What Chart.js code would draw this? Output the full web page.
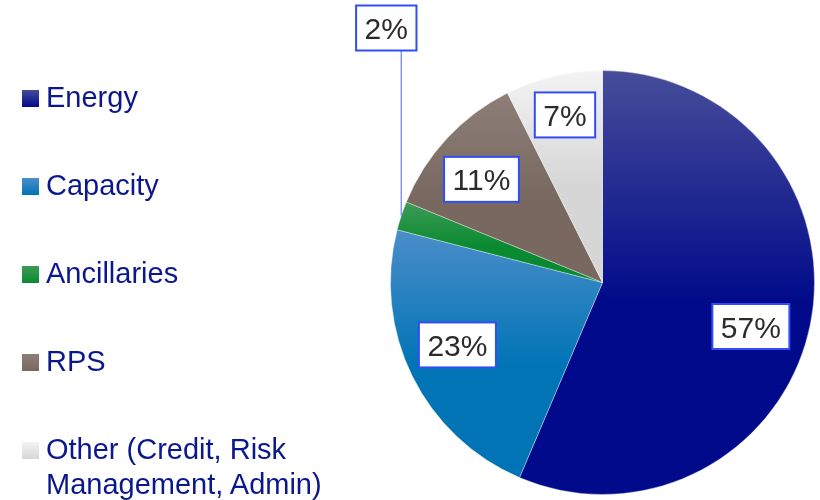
<!DOCTYPE html>
<html>
<head>
<meta charset="utf-8">
<script src="https://cdn.jsdelivr.net/npm/chart.js@4.4.1/dist/chart.umd.min.js"></script>
<style>
  html, body { margin: 0; padding: 0; background: #fff; }
  #wrap { position: relative; width: 820px; height: 500px; overflow: hidden; }
  #costChart { position: absolute; left: 0; top: 0; }
  #legend {
    position: absolute; left: 22px; top: 80px;
    font-family: "Liberation Sans", Arial, sans-serif;
    font-size: 29px; line-height: 35px; color: #0b188c;
  }
  #legend .item { position: relative; height: 88px; padding-left: 24px; width: 300px; }
  #legend .box { position: absolute; left: 0; top: 10px; width: 17px; height: 17px; }
</style>
</head>
<body>
<div id="wrap">
  <canvas id="costChart" width="820" height="500"></canvas>
  <div id="legend"></div>
</div>
<script>
var categories = ["Energy", "Capacity", "Ancillaries", "RPS", "Other (Credit, Risk Management, Admin)"];
var shares = [56.4, 22.6, 2.2, 11.4, 7.4];
var shareLabels = ["57%", "23%", "2%", "11%", "7%"];

var sliceTints = ["#474d99", "#4b8ec9", "#3d9b57", "#8d7f78", "#f3f3f3"];
var sliceBases = ["#000a8a", "#0074b5", "#0a8a30", "#786860", "#d6d6d6"];

// where each % tag sits: turn = degrees off the slice middle, radius = share of pie radius
var labelPlacement = [
  { turn: 5, radius: 0.73 },
  { turn: 3, radius: 0.745 },
  { callout: true },
  { turn: -2.4, radius: 0.75 },
  { turn: 0.7, radius: 0.81 },
];

// legend
var legendEl = document.getElementById("legend");
categories.forEach(function (name, i) {
  var item = document.createElement("div");
  item.className = "item";
  var box = document.createElement("span");
  box.className = "box";
  box.style.background = "linear-gradient(" + sliceTints[i] + ", " + sliceBases[i] + ")";
  item.appendChild(box);
  item.appendChild(document.createTextNode(name));
  legendEl.appendChild(item);
});

// vertical gradient over the bounding box of each slice
function sliceFill(context) {
  var chart = context.chart;
  var area = chart.chartArea;
  var i = context.dataIndex;
  if (!area) return sliceBases[i];
  var cx = (area.left + area.right) / 2;
  var cy = (area.top + area.bottom) / 2;
  var r = Math.min(area.right - area.left, area.bottom - area.top) / 2;
  var total = shares.reduce(function (a, b) { return a + b; }, 0);
  var before = 0;
  for (var k = 0; k < i; k++) before += shares[k];
  var a0 = -Math.PI / 2 + (before / total) * 2 * Math.PI;
  var a1 = a0 + (shares[i] / total) * 2 * Math.PI;
  var ys = [cy, cy + r * Math.sin(a0), cy + r * Math.sin(a1)];
  [-Math.PI / 2, Math.PI / 2, 1.5 * Math.PI].forEach(function (a) {
    if (a > a0 && a < a1) ys.push(cy + r * Math.sin(a));
  });
  var top = Math.min.apply(null, ys);
  var bot = Math.max.apply(null, ys);
  var g = chart.ctx.createLinearGradient(0, top, 0, bot);
  g.addColorStop(0, sliceTints[i]);
  g.addColorStop(0.55, sliceBases[i]);
  g.addColorStop(1, sliceBases[i]);
  return g;
}

function drawTag(c, text, x, y) {
  c.font = '30px "Liberation Sans", Arial, sans-serif';
  var w = c.measureText(text).width + 17;
  var h = 45;
  c.fillStyle = "#ffffff";
  c.fillRect(x - w / 2, y - h / 2, w, h);
  c.strokeStyle = "#2f4ef6";
  c.lineWidth = 2;
  c.strokeRect(x - w / 2, y - h / 2, w, h);
  c.fillStyle = "#2b2b2b";
  c.textAlign = "center";
  c.textBaseline = "alphabetic";
  c.fillText(text, x, y + 11);
}

var tagPlugin = {
  id: "percentTags",
  afterDatasetsDraw: function (chart) {
    var c = chart.ctx;
    var arcs = chart.getDatasetMeta(0).data;
    c.save();
    arcs.forEach(function (arc, i) {
      var p = arc.getProps(["x", "y", "startAngle", "endAngle", "outerRadius"], true);
      var mid = (p.startAngle + p.endAngle) / 2;
      var place = labelPlacement[i];
      if (place.callout) {
        var lx = p.x + p.outerRadius * Math.cos(mid);
        var ly = p.y + p.outerRadius * Math.sin(mid);
        var boxBottom = p.y - p.outerRadius - 20;
        c.strokeStyle = "#8194ff";
        c.lineWidth = 1.5;
        c.beginPath();
        c.moveTo(lx, ly);
        c.lineTo(lx, boxBottom);
        c.stroke();
        drawTag(c, shareLabels[i], lx - 15, boxBottom - 22.5);
      } else {
        var a = mid + (place.turn * Math.PI) / 180;
        var rr = p.outerRadius * place.radius;
        drawTag(c, shareLabels[i], p.x + rr * Math.cos(a), p.y + rr * Math.sin(a));
      }
    });
    c.restore();
  },
};

var ctx = document.getElementById("costChart").getContext("2d");
var myChart = new Chart(ctx, {
  type: "pie",
  data: {
    labels: categories,
    datasets: [
      {
        data: shares,
        backgroundColor: sliceFill,
        borderColor: "rgba(255,255,255,0.35)",
        borderWidth: 1,
        hoverBorderWidth: 1,
        hoverOffset: 0,
        offset: 0,
      },
    ],
  },
  options: {
    responsive: false,
    animation: false,
    events: [],
    layout: {
      padding: { left: 390, right: 5, top: 70, bottom: 5 },
    },
    plugins: {
      legend: { display: false },
      tooltip: { enabled: false },
    },
  },
  plugins: [tagPlugin],
});
</script>
</body>
</html>
